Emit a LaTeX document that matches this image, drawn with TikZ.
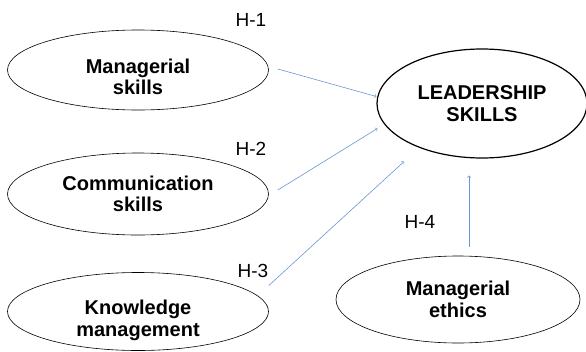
\documentclass[tikz,border=0pt]{standalone}
\usepackage{fontspec}
\setmainfont{Liberation Sans}
\usetikzlibrary{shapes.geometric}
\definecolor{bleufleche}{RGB}{105,150,210}

\begin{document}
\begin{tikzpicture}[x=1pt,y=-1pt]
\tikzset{ovale/.style={draw, ellipse, inner sep=0pt, align=center, line width=0.6pt, font=\fontsize{20}{21.5}\selectfont\bfseries}}
\tikzset{texte/.style={align=center, inner sep=0pt, font=\fontsize{20}{21.5}\selectfont\bfseries}}
\tikzset{fleche/.style={->, draw=bleufleche, line width=0.6pt}}
\tikzset{hypo/.style={font=\fontsize{19}{21}\selectfont}}
\useasboundingbox (0,0) rectangle (586,351);
\node[ovale, minimum width=261pt, minimum height=80pt, label={[texte,yshift=-7pt]center:{Managerial\\skills}}] (MS) at (138,70) {};
\node[ovale, minimum width=261pt, minimum height=82pt] (CS) at (138,194) {Communication\\skills};
\node[ovale, minimum width=261pt, minimum height=78pt, label={[texte,yshift=-9pt]center:{Knowledge\\management}}] (KM) at (138,311.5) {};
\node[ovale, minimum width=244pt, minimum height=87pt] (ME) at (458,299.5) {Managerial\\ethics};
\node[ovale, minimum width=210pt, minimum height=109pt, line width=1.2pt] (LS) at (482,103.5) {LEADERSHIP\\SKILLS};
\node[hypo] (H1) at (251,20) {H-1};
\node[hypo] (H2) at (251,149) {H-2};
\node[hypo] (H3) at (253,271) {H-3};
\node[hypo] (H4) at (420,222) {H-4};
\draw[fleche] ([xshift=9pt,yshift=1pt]MS.east) -- ([yshift=7pt]LS.west);
\draw[fleche] ([xshift=9pt,yshift=4pt]CS.east) -- ([xshift=1pt,yshift=-25pt]LS.west);
\draw[fleche] ([yshift=26pt]KM.east) -- ([xshift=-78pt,yshift=-3pt]LS.south);
\draw[fleche] ([xshift=11pt,yshift=9pt]ME.north) -- ([xshift=-13pt,yshift=-17pt]LS.south);
\end{tikzpicture}
\end{document}
